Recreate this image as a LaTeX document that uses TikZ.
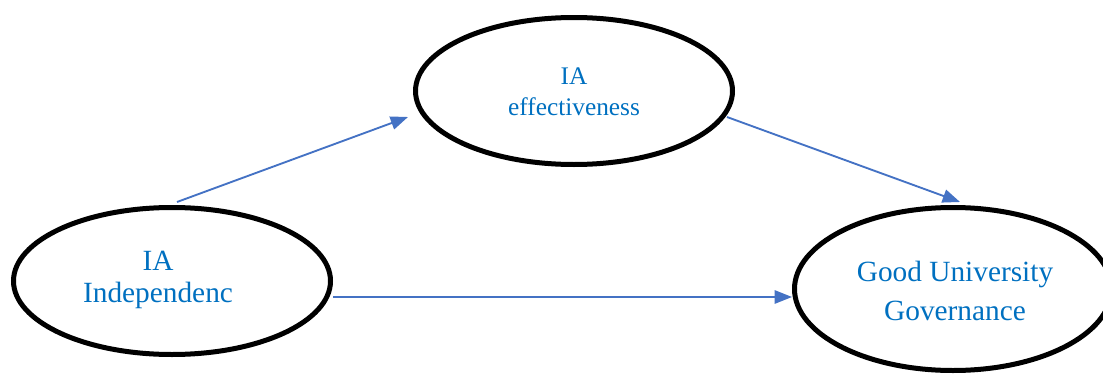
\documentclass[tikz,border=0pt]{standalone}
\usepackage{fontspec}
\setmainfont{Liberation Serif}
\usetikzlibrary{shapes.geometric,arrows.meta}
\definecolor{txtblue}{HTML}{0070C0}
\definecolor{arrblue}{HTML}{4472C4}

\begin{document}
\begin{tikzpicture}[x=0.75pt, y=0.75pt, >={Triangle[length=13pt,width=10pt]},
    oval/.style={ellipse, draw, line width=3.75pt, inner sep=0pt, minimum width=237.75pt, minimum height=110.25pt},
    txt/.style={text=txtblue, align=center, inner sep=0pt},
    link/.style={->, arrblue, line width=1.4pt}]
  \clip (0,0) rectangle (1103,376);

  \node[oval] (eff) at (574,285) {};
  \node[oval] (ind) at (172,95) {};
  \node[oval, minimum height=122.25pt] (gug) at (953,87) {};

  \node[txt, font=\fontsize{19}{23}\selectfont] (efftxt) at (574,284) {IA\\effectiveness};
  \node[txt, font=\fontsize{22}{24}\selectfont] (indtxt) at (158,96) {IA\\Independenc};
  \node[txt, font=\fontsize{22}{29}\selectfont] (gugtxt) at (955,85) {Good University\\Governance};

  \draw[link] ([shift={(5,3)}]ind.north) -- ([shift={(-5,-26)}]eff.west);
  \draw[link] ([shift={(-8,-26)}]eff.east) -- ([shift={(7,3)}]gug.north);
  \draw[link] ([shift={(0,-16)}]ind.east) -- ([shift={(0,-8)}]gug.west);
\end{tikzpicture}
\end{document}
